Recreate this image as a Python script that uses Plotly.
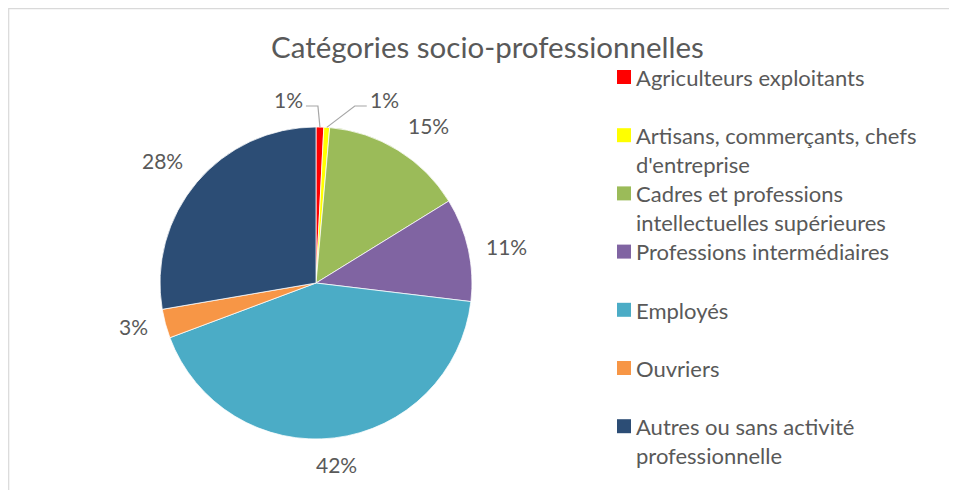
import math
import plotly.graph_objects as go

# ---- data ----
title_text = "Catégories socio-professionnelles"
categories = [
    "Agriculteurs exploitants",
    "Artisans, commerçants, chefs d'entreprise",
    "Cadres et professions intellectuelles supérieures",
    "Professions intermédiaires",
    "Employés",
    "Ouvriers",
    "Autres ou sans activité professionnelle",
]
legend_lines = [
    ["Agriculteurs exploitants"],
    ["Artisans, commerçants, chefs", "d'entreprise"],
    ["Cadres et professions", "intellectuelles supérieures"],
    ["Professions intermédiaires"],
    ["Employés"],
    ["Ouvriers"],
    ["Autres ou sans activité", "professionnelle"],
]
values = [0.8, 0.6, 14.8, 10.7, 42.4, 3.0, 27.7]
colors = ["#FF0000", "#FFFF00", "#9BBB59", "#8064A2", "#4BACC6", "#F79646", "#2C4D75"]

# ---- layout helpers (pixel positions in the 957x490 window; page body has an 8px margin) ----
W, H = 957, 490
OFF = 8
FONT = "Lato"
GRAY = "#595959"
LEADER = "#A6A6A6"

def px_x(x):
    return (x - OFF) / W

def px_y(y):
    return 1 - (y - OFF) / H

# pie geometry (window px)
CX, CY, R = 316, 283, 156
LABEL_GAP = 16
LABEL_VPAD = 4
# leader-line style for tiny slices: side (-1 left / +1 right), elbow shift, rise above the rim
TINY_LIMIT = 2.0
tiny_sides = [-1, 1]
tiny_elbow_dx = [-2, 28]
tiny_rise = 21
tiny_run = 12

fig = go.Figure()
fig.add_trace(go.Pie(
    labels=categories,
    values=values,
    sort=False,
    direction="clockwise",
    rotation=0,
    marker=dict(colors=colors, line=dict(color="white", width=0.75)),
    textinfo="none",
    hoverinfo="label+percent",
    showlegend=False,
    domain=dict(x=[px_x(CX - R), px_x(CX + R)], y=[px_y(CY + R), px_y(CY - R)]),
))

shapes = [
    dict(type="rect", xref="paper", yref="paper",
         x0=px_x(8.7), x1=px_x(W + 30), y0=px_y(H + 30), y1=px_y(8.7),
         line=dict(color="#D9D9D9", width=1.2), fillcolor="rgba(0,0,0,0)", layer="below"),
]
annotations = [
    dict(text=title_text, xref="paper", yref="paper", x=px_x(488), y=px_y(47),
         xanchor="center", yanchor="middle", showarrow=False,
         font=dict(family=FONT, size=29.5, color=GRAY)),
]

# data labels (percent, placed outside each slice at its mid-angle)
lab_fs = 21
total = sum(values)
cum = 0.0
tiny_idx = 0
for v in values:
    mid = (cum + v / 2) / total * 2 * math.pi
    cum += v
    s, c = math.sin(mid), math.cos(mid)
    txt = f"{round(v / total * 100)}%"
    if v < TINY_LIMIT:
        side = tiny_sides[tiny_idx % len(tiny_sides)]
        edx = tiny_elbow_dx[tiny_idx % len(tiny_elbow_dx)]
        tiny_idx += 1
        ax, ay = CX + R * s, CY - R * c
        ex, ey = ax + edx, CY - R - tiny_rise
        hx = ex + side * tiny_run
        shapes.append(dict(type="path", xref="paper", yref="paper",
                           path=f"M {px_x(ax)},{px_y(ay)} L {px_x(ex)},{px_y(ey)} L {px_x(hx)},{px_y(ey)}",
                           line=dict(color=LEADER, width=1.2)))
        annotations.append(dict(text=txt, xref="paper", yref="paper",
                                x=px_x(hx + side * 1), y=px_y(ey - 7),
                                xanchor="right" if side < 0 else "left", yanchor="middle",
                                showarrow=False, font=dict(family=FONT, size=lab_fs, color=GRAY)))
        continue
    px_ = CX + (R + LABEL_GAP) * s
    py_ = CY - (R + LABEL_GAP) * c + LABEL_VPAD * c
    xa = "left" if s > 0.3 else ("right" if s < -0.3 else "center")
    ya = "bottom" if c > 0.3 else ("top" if c < -0.3 else "middle")
    annotations.append(dict(text=txt, xref="paper", yref="paper", x=px_x(px_), y=px_y(py_),
                            xanchor=xa, yanchor=ya, showarrow=False,
                            font=dict(family=FONT, size=lab_fs, color=GRAY)))

# legend (Excel-like evenly spaced slots)
leg_fs = 22
slot0, slot = 77, 58.2
for i, (lines, col) in enumerate(zip(legend_lines, colors)):
    cy = slot0 + i * slot
    shapes.append(dict(type="rect", xref="paper", yref="paper",
                       x0=px_x(617), x1=px_x(631), y0=px_y(cy + 7), y1=px_y(cy - 7),
                       line=dict(width=0), fillcolor=col))
    line_h = leg_fs * 1.3
    annotations.append(dict(text="<br>".join(lines), xref="paper", yref="paper",
                            x=px_x(634), y=px_y(cy - line_h / 2 - 1),
                            xanchor="left", yanchor="top", align="left", showarrow=False,
                            font=dict(family=FONT, size=leg_fs, color=GRAY)))

fig.update_layout(
    width=W, height=H,
    margin=dict(l=0, r=0, t=0, b=0),
    paper_bgcolor="white",
    plot_bgcolor="white",
    shapes=shapes,
    annotations=annotations,
)

fig.write_html("out.html")
